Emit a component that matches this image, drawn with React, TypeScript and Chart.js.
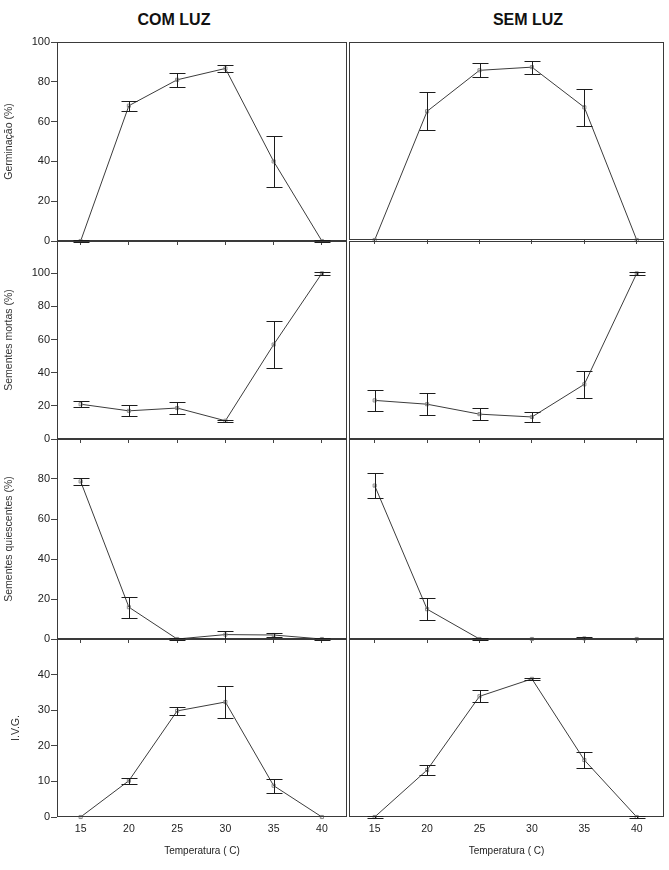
import React, { useEffect, useRef } from "react";
import { Chart, registerables } from "chart.js";

Chart.register(...registerables);

// ---------- data ----------
const temperatures = [15, 20, 25, 30, 35, 40];

const germComLuz = [0, 68, 81, 86.7, 40, 0];
const germComLuzErr = [0.4, 2.5, 3.5, 1.6, 13, 0.4];
const germSemLuz = [0, 65, 85.7, 87.3, 67, 0];
const germSemLuzErr = [0, 9.5, 3.5, 3.3, 9.3, 0];

const mortasComLuz = [21, 17, 18.7, 11, 57, 100];
const mortasComLuzErr = [1.9, 3.3, 3.4, 0.6, 14.3, 0.8];
const mortasSemLuz = [23.3, 21, 15, 13.3, 33, 100];
const mortasSemLuzErr = [6.5, 6.5, 3.7, 3.2, 8.3, 0.8];

const quiComLuz = [78.8, 15.9, 0, 2.2, 2, 0];
const quiComLuzErr = [1.8, 5.2, 0.3, 2, 1.2, 0.3];
const quiSemLuz = [76.7, 14.9, 0, 0, 0.3, 0];
const quiSemLuzErr = [6.4, 5.4, 0.3, 0, 0.5, 0];

const ivgComLuz = [0, 10.2, 29.8, 32.3, 8.8, 0];
const ivgComLuzErr = [0, 0.8, 1.1, 4.6, 2, 0];
const ivgSemLuz = [0, 13.2, 33.9, 38.8, 16, 0];
const ivgSemLuzErr = [0.3, 1.5, 1.7, 0.35, 2.3, 0.3];

const germTicks = [0, 20, 40, 60, 80, 100];
const mortasTicks = [0, 20, 40, 60, 80, 100];
const quiTicks = [0, 20, 40, 60, 80];
const ivgTicks = [0, 10, 20, 30, 40];

const columnTitles = ["COM LUZ", "SEM LUZ"];
const rowTitles = ["Germinação (%)", "Sementes mortas (%)", "Sementes quiescentes (%)", "I.V.G."];
const xTitle = "Temperatura ( C)";

// ---------- layout ----------
const rows = [
  { title: rowTitles[0], max: 100, ticks: germTicks, top: 42, bottom: 241, bottomRight: 240, titlePad: 3,
    left: [germComLuz, germComLuzErr], right: [germSemLuz, germSemLuzErr] },
  { title: rowTitles[1], max: 119.5, ticks: mortasTicks, top: 241, bottom: 439, bottomRight: 439, titlePad: 3,
    left: [mortasComLuz, mortasComLuzErr], right: [mortasSemLuz, mortasSemLuzErr] },
  { title: rowTitles[2], max: 100, ticks: quiTicks, top: 439, bottom: 639, bottomRight: 639, titlePad: 3,
    left: [quiComLuz, quiComLuzErr], right: [quiSemLuz, quiSemLuzErr] },
  { title: rowTitles[3], max: 50, ticks: ivgTicks, top: 639, bottom: 817, bottomRight: 817, titlePad: 10,
    left: [ivgComLuz, ivgComLuzErr], right: [ivgSemLuz, ivgSemLuzErr] },
];

const FONT = '"Liberation Sans", Arial, sans-serif';

const errorBarPlugin = {
  id: "errorBars",
  afterDatasetsDraw(chart: any) {
    const ctx = chart.ctx;
    const yScale = chart.scales.y;
    chart.data.datasets.forEach((ds: any, di: number) => {
      const errs = ds.errors;
      if (!errs) return;
      const meta = chart.getDatasetMeta(di);
      ctx.save();
      ctx.strokeStyle = "#1c1c1c";
      ctx.lineWidth = 1;
      meta.data.forEach((pt: any, i: number) => {
        const e = errs[i];
        if (!e) return;
        const v = ds.data[i].y;
        const x = Math.round(pt.x) + 0.5;
        const yT = Math.round(yScale.getPixelForValue(v + e)) + 0.5;
        const yB = Math.round(yScale.getPixelForValue(v - e)) + 0.5;
        const hw = 8;
        ctx.beginPath();
        ctx.moveTo(x, yT);
        ctx.lineTo(x, yB);
        ctx.moveTo(x - hw, yT);
        ctx.lineTo(x + hw, yT);
        ctx.moveTo(x - hw, yB);
        ctx.lineTo(x + hw, yB);
        ctx.stroke();
      });
      ctx.restore();
    });
  },
};

const framePlugin = {
  id: "frame",
  afterDatasetsDraw(chart: any) {
    const { ctx, chartArea } = chart;
    const l = Math.round(chartArea.left) + 0.5;
    const r = Math.round(chartArea.right) - 0.5;
    const t = Math.round(chartArea.top) + 0.5;
    const b = Math.round(chartArea.bottom) - 0.5;
    ctx.save();
    ctx.strokeStyle = "#3a3a3a";
    ctx.lineWidth = 1;
    ctx.strokeRect(l, t, r - l, b - t);
    ctx.restore();
  },
};

type PanelProps = { row: any; rowIndex: number; side: "left" | "right" };

function Panel({ row, rowIndex, side }: PanelProps) {
  const ref = useRef<HTMLCanvasElement | null>(null);
  const isLeft = side === "left";
  const isBottom = rowIndex === rows.length - 1;
  const canvasLeft = isLeft ? 0 : 340;
  const canvasWidth = isLeft ? 352 : 329;
  const padTop = 8;
  const padBottom = 4;
  const xh = isBottom ? 44 : 4;
  const bottom = isLeft ? row.bottom : row.bottomRight;
  const canvasTop = row.top - padTop;
  const canvasHeight = padTop + (bottom - row.top) + xh + padBottom;
  const [values, errors] = isLeft ? row.left : row.right;

  useEffect(() => {
    const canvas = ref.current!;
    const chart = new Chart(canvas, {
      type: "line",
      data: {
        datasets: [
          {
            data: temperatures.map((t, i) => ({ x: t, y: values[i] })),
            errors,
            borderColor: "#3c3c3c",
            borderWidth: 1,
            tension: 0,
            pointStyle: "rect",
            pointRadius: 2.2,
            pointBorderWidth: 1,
            pointBorderColor: "#8a8a8a",
            pointBackgroundColor: "rgba(0,0,0,0)",
            clip: false,
          } as any,
        ],
      },
      options: {
        animation: false,
        responsive: false,
        devicePixelRatio: 1,
        layout: {
          padding: {
            top: padTop,
            bottom: padBottom,
            left: isLeft ? 0 : 9,
            right: isLeft ? 3 : 4,
          },
        },
        plugins: {
          legend: { display: false },
          tooltip: { enabled: false },
          title: { display: false },
        },
        scales: {
          x: {
            type: "linear",
            min: 12.55,
            max: 42.6,
            afterBuildTicks: (scale: any) => {
              scale.ticks = temperatures.map((v) => ({ value: v }));
            },
            afterFit: (scale: any) => {
              scale.height = xh;
            },
            border: { display: false },
            grid: {
              drawOnChartArea: false,
              drawTicks: !isBottom,
              tickLength: 4,
              color: "#444",
            },
            ticks: {
              display: isBottom,
              autoSkip: false,
              maxRotation: 0,
              padding: 6,
              color: "#222",
              font: { family: FONT, size: 10.5 },
              callback: (v: any) => String(v),
            },
            title: {
              display: isBottom,
              text: xTitle,
              color: "#222",
              font: { family: FONT, size: 10 },
              padding: { top: 0, bottom: 4 },
            },
          },
          y: {
            display: isLeft,
            min: 0,
            max: row.max,
            afterBuildTicks: (scale: any) => {
              scale.ticks = row.ticks.map((v: number) => ({ value: v }));
            },
            afterFit: (scale: any) => {
              scale.width = isLeft ? 57 : 0;
            },
            border: { display: false },
            grid: {
              drawOnChartArea: false,
              drawTicks: true,
              tickLength: 6,
              color: "#444",
            },
            ticks: {
              autoSkip: false,
              padding: 1,
              color: "#222",
              font: { family: FONT, size: 11 },
              callback: (v: any) => String(v),
            },
            title: {
              display: true,
              text: row.title,
              color: "#333",
              font: { family: FONT, size: 10.5 },
              padding: { top: row.titlePad, bottom: 0 },
            },
          },
        },
      },
      plugins: [framePlugin, errorBarPlugin],
    });
    return () => chart.destroy();
  }, []);

  return (
    <canvas
      ref={ref}
      width={canvasWidth}
      height={canvasHeight}
      style={{
        position: "absolute",
        left: canvasLeft,
        top: canvasTop,
        width: canvasWidth,
        height: canvasHeight,
      }}
    />
  );
}

const headerStyle = (cx: number): React.CSSProperties => ({
  position: "absolute",
  left: cx,
  top: 20,
  transform: "translate(-50%, -50%)",
  font: `bold 16px ${FONT}`,
  color: "#111",
  whiteSpace: "nowrap",
});

export default function App() {
  return (
    <div
      style={{
        position: "absolute",
        left: 0,
        top: 0,
        width: 669,
        height: 870,
        overflow: "hidden",
        background: "#fff",
      }}
    >
      <div style={headerStyle(174)}>{columnTitles[0]}</div>
      <div style={headerStyle(528)}>{columnTitles[1]}</div>
      {rows.map((row, i) => (
        <React.Fragment key={i}>
          <Panel row={row} rowIndex={i} side="left" />
          <Panel row={row} rowIndex={i} side="right" />
        </React.Fragment>
      ))}
    </div>
  );
}
